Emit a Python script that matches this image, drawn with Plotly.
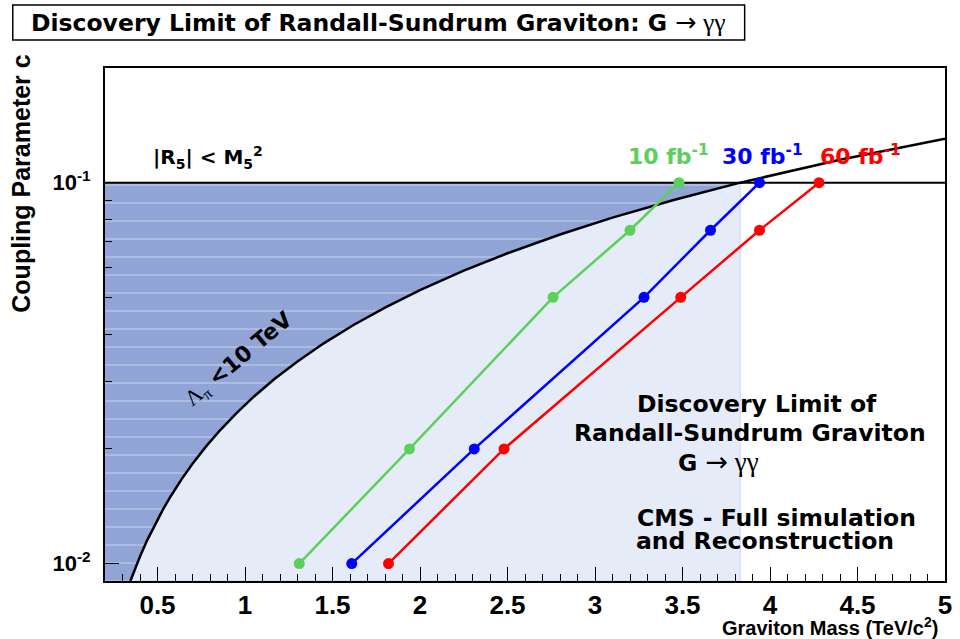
import plotly.graph_objects as go

# ---------------- data ----------------
coupling = [0.01, 0.02, 0.05, 0.075, 0.1]
mass_10fb = [1.31, 1.94, 2.76, 3.20, 3.48]
mass_30fb = [1.61, 2.31, 3.28, 3.66, 3.94]
mass_60fb = [1.82, 2.48, 3.49, 3.94, 4.28]

# Lambda_pi = 10 TeV boundary
curve_mass = [0.345, 0.37, 0.40, 0.44, 0.48, 0.53, 0.58, 0.64, 0.70, 0.78, 0.86, 0.95, 1.05,
              1.17, 1.30, 1.45, 1.62, 1.80, 2.00, 2.25, 2.50, 2.80, 3.10, 3.45, 3.83, 4.40, 5.00]
curve_c = [0.0090, 0.00966, 0.01044, 0.01149, 0.01253, 0.01384, 0.01514, 0.01671, 0.01828,
           0.02037, 0.02245, 0.02480, 0.02742, 0.03055, 0.03394, 0.03786, 0.04230, 0.04700,
           0.05222, 0.05875, 0.06527, 0.07311, 0.08094, 0.09008, 0.1000, 0.1149, 0.1305]

# |R5| < M5^2 limit
c_limit = 0.1
mass_range = [0.2, 5.0]
c_range = [0.009, 0.2]
light_region_mass = [0.2, 3.83]

x_tickvals = [0.5, 1, 1.5, 2, 2.5, 3, 3.5, 4, 4.5, 5]
x_ticktext = ["0.5", "1", "1.5", "2", "2.5", "3", "3.5", "4", "4.5", "5"]
y_tickvals = [0.01, 0.1]
y_ticktext = ["10<sup>-2</sup>", "10<sup>-1</sup>"]
y_minor = [0.02, 0.03, 0.04, 0.05, 0.06, 0.07, 0.08, 0.09, 0.2]

series = [("10 fb<sup>-1</sup>", mass_10fb, "#5bd05b"),
          ("30 fb<sup>-1</sup>", mass_30fb, "#0000ff"),
          ("60 fb<sup>-1</sup>", mass_60fb, "#ff0000")]

SANS = "Liberation Sans, Arial, sans-serif"
WIDE = "DejaVu Sans, Liberation Sans, sans-serif"
SERIF_SPAN = "<span style='font-family:Liberation Serif;font-weight:normal'>{}</span>"
ARROW = ("<span style='font-family:DejaVu Sans;font-weight:normal;font-size:{s}px'>\u2192</span>"
         "<span style='font-family:Liberation Serif;font-weight:normal;font-size:{s}px'> \u03b3\u03b3</span>")

fig = go.Figure()

# light region (rectangle)
lx0, lx1 = light_region_mass
fig.add_trace(go.Scatter(
    x=[lx0, lx1, lx1, lx0, lx0], y=[c_range[0], c_range[0], c_limit, c_limit, c_range[0]],
    fill="toself", fillcolor="#e6ecf7", line=dict(width=0.6, color="#b8c6e6"),
    mode="lines", hoverinfo="skip", showlegend=False))

# dark region: above the curve and below the c limit
dx = [mass_range[0]] + [m for m, c in zip(curve_mass, curve_c) if c <= c_limit] + [mass_range[0]]
dy = [c_range[0]] + [c for c in curve_c if c <= c_limit] + [c_limit]
fig.add_trace(go.Scatter(
    x=dx, y=dy, fill="toself", fillcolor="#90a4d6",
    fillpattern=dict(shape="-", bgcolor="#90a4d6", fgcolor="#dfe6f5", size=18, solidity=0.08),
    line=dict(width=0), mode="lines", hoverinfo="skip", showlegend=False))

# c = 0.1 line
fig.add_trace(go.Scatter(x=mass_range, y=[c_limit, c_limit], mode="lines",
                         line=dict(color="black", width=2), showlegend=False, hoverinfo="skip"))
# Lambda_pi curve
fig.add_trace(go.Scatter(x=curve_mass, y=curve_c, mode="lines",
                         line=dict(color="black", width=2.5), showlegend=False, hoverinfo="skip"))

for name, masses, col in series:
    fig.add_trace(go.Scatter(x=masses, y=coupling, mode="lines+markers", name=name,
                             line=dict(color=col, width=2.5),
                             marker=dict(color=col, size=11, symbol="circle"),
                             showlegend=False))

L, R, T, B = 105, 8, 68, 58
W, H = 960, 639
pw, ph = W - L - R, H - T - B


def px(x):
    return (x - L) / pw


def py(y):
    return (H - B - y) / ph


def bold(family, size, color="black"):
    return dict(family=family, size=size, color=color, weight="bold")


ann = []
ann.append(dict(x=px(209), y=py(157), text="|R<sub>5</sub>| < M<sub>5</sub><sup>2</sup>",
                font=bold(WIDE, 20)))
lab_x = [673, 768, 867]
for (name, _, col), lx in zip(series, lab_x):
    ann.append(dict(x=px(lx), y=py(155), text=name, font=bold(WIDE, 22, col)))

ann.append(dict(x=px(762), y=py(404), text="Discovery Limit of", font=bold(WIDE, 23.5)))
ann.append(dict(x=px(755), y=py(433), text="Randall-Sundrum Graviton", font=bold(WIDE, 23.5)))
ann.append(dict(x=px(724), y=py(461), text="G " + ARROW.format(s=27), font=bold(WIDE, 23.5)))
ann.append(dict(x=px(782), y=py(518), text="CMS - Full simulation", font=bold(WIDE, 23.5)))
ann.append(dict(x=px(770), y=py(541), text="and Reconstruction", font=bold(WIDE, 23.5)))
ann.append(dict(x=px(240), y=py(360), textangle=-40,
                text=SERIF_SPAN.format("\u039b<sub>\u03c0</sub>") + " &lt;10 TeV",
                font=bold(WIDE, 22)))
# axis titles
ann.append(dict(x=px(20), y=py(184), textangle=-90, text="Coupling Parameter c",
                font=bold(SANS, 25)))
ann.append(dict(x=px(947), y=py(626), xanchor="right", text="Graviton Mass (TeV/c<sup>2</sup>)",
                font=bold(SANS, 20)))
# title
ann.append(dict(x=px(381), y=py(22),
                text="Discovery Limit of Randall-Sundrum Graviton: G " + ARROW.format(s=25.5),
                font=bold(WIDE, 23.5)))

for a in ann:
    a.setdefault("xanchor", "center")
    a.update(xref="paper", yref="paper", showarrow=False, yanchor="middle")

fig.update_layout(
    width=W, height=H, margin=dict(l=L, r=R, t=T, b=B),
    paper_bgcolor="white", plot_bgcolor="white",
    annotations=ann, showlegend=False,
    shapes=[dict(type="rect", xref="paper", yref="paper",
                 x0=px(12), x1=px(750), y0=py(40), y1=py(5),
                 line=dict(color="black", width=1.5), fillcolor="white", layer="below")],
    xaxis=dict(range=mass_range, tickmode="array", tickvals=x_tickvals, ticktext=x_ticktext,
               ticks="inside", ticklen=14, tickwidth=1, tickcolor="black",
               minor=dict(dtick=0.1, tick0=0.0, ticks="inside", ticklen=7, tickcolor="black", showgrid=False),
               showline=True, linecolor="black", linewidth=2, mirror=True,
               showgrid=False, zeroline=False, ticklabelstandoff=0,
               tickfont=bold(SANS, 26)),
    yaxis=dict(type="log", range=[-2.0457575, -0.69897], tickmode="array",
               tickvals=y_tickvals, ticktext=y_ticktext,
               ticks="inside", ticklen=14, tickwidth=1, tickcolor="black",
               minor=dict(tickmode="array", tickvals=y_minor, ticks="inside", ticklen=7,
                          tickcolor="black", showgrid=False),
               showline=True, linecolor="black", linewidth=2, mirror=True,
               showgrid=False, zeroline=False, ticklabelstandoff=8,
               tickfont=bold(SANS, 22)),
)

fig.write_html("out.html", config={"displayModeBar": False},
               post_script="document.body.style.margin='0';document.body.style.overflow='hidden';")
